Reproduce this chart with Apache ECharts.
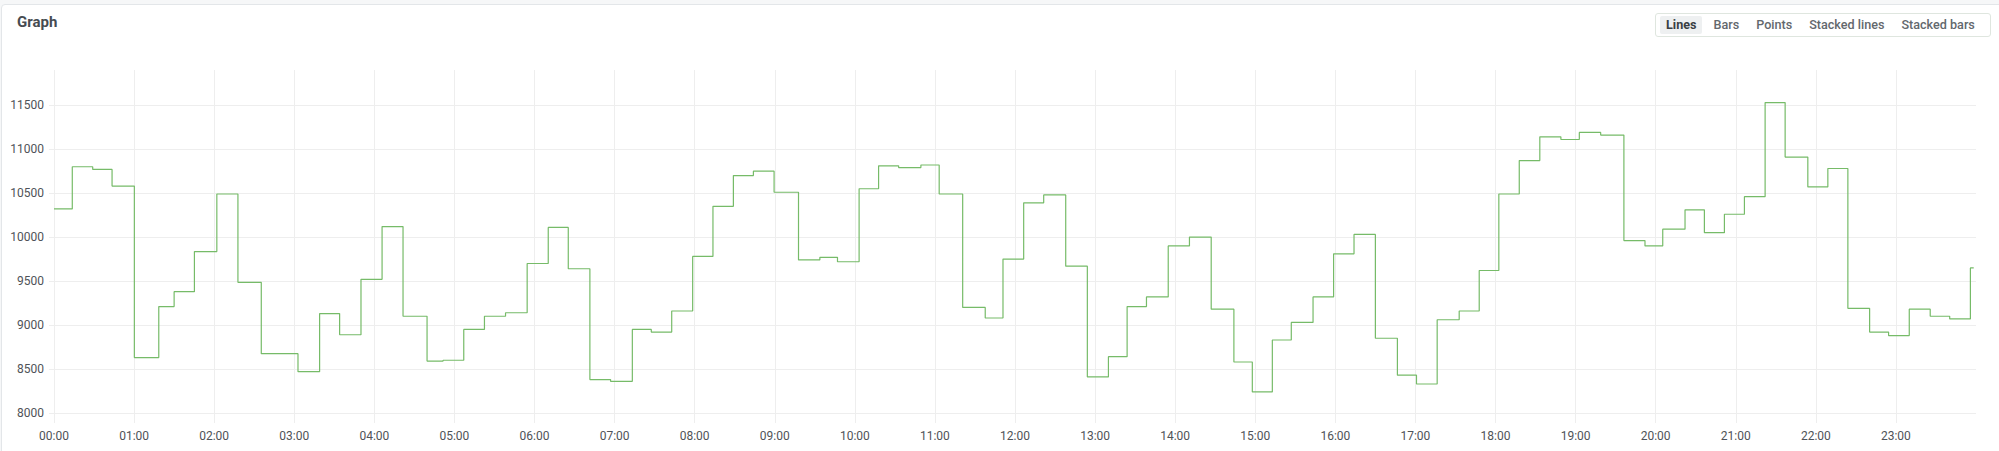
<!DOCTYPE html>
<html>
<head>
<meta charset="utf-8">
<title>Graph</title>
<script src="https://cdn.jsdelivr.net/npm/echarts@6/dist/echarts.min.js"></script>
<style>
  html, body { margin: 0; padding: 0; background: #f6f7f8; }
  body { width: 1999px; height: 451px; position: relative; overflow: hidden; font-family: Roboto, 'Liberation Sans', sans-serif; }
  .card { position: absolute; left: 1px; top: 4px; width: 2010px; height: 470px; background: #fff; border: 1px solid #e3e6e9; border-radius: 4px; }
  .title { position: absolute; left: 17px; top: 13px; font-size: 15px; font-weight: 700; color: #464b51; z-index: 2; }
  .modes { position: absolute; left: 1655px; top: 13px; height: 22px; padding: 0 4px; border: 1px solid #dfe6df; border-radius: 3px; display: flex; align-items: center; z-index: 2; }
  .modes span { font-size: 12.6px; font-weight: 500; color: #63686d; padding: 2px 6px; margin-right: 5px; border-radius: 2px; line-height: 14px; }
  .modes span.on { background: #eef0f1; color: #3a3f44; font-weight: 700; }
  #chart { position: absolute; left: 0; top: 0; width: 1999px; height: 451px; z-index: 1; }
</style>
</head>
<body>
<div class="card"></div>
<div class="title">Graph</div>
<div class="modes">
  <span class="on">Lines</span><span>Bars</span><span>Points</span><span>Stacked lines</span><span>Stacked bars</span>
</div>
<div id="chart"></div>
<script>
// minutes after 00:00 where the value changes
const times = [
  0, 13.7, 29.0, 43.5, 60.2, 78.5, 90.0, 105.2, 122.0, 137.8,
  155.3, 182.8, 199.0, 214.0, 230.0, 245.8, 261.5, 279.5, 291.5, 307.0,
  322.5, 338.3, 354.5, 370.3, 385.3, 401.5, 417.0, 433.3, 447.5, 462.8,
  478.5, 493.7, 509.0, 524.0, 539.5, 557.8, 573.8, 587.0, 603.2, 617.8,
  632.8, 649.5, 663.2, 680.8, 697.7, 711.0, 726.5, 741.5, 758.0, 774.2,
  790.0, 804.0, 818.5, 834.8, 850.7, 867.0, 884.0, 897.8, 912.8, 927.0,
  943.3, 958.7, 974.0, 990.0, 1006.5, 1020.8, 1036.3, 1052.8, 1067.8, 1082.5,
  1097.8, 1113.2, 1129.0, 1142.8, 1158.8, 1176.2, 1192.0, 1205.3, 1222.0, 1236.5,
  1251.5, 1266.5, 1282.0, 1297.0, 1314.0, 1329.0, 1344.0, 1360.3, 1374.5, 1390.0,
  1405.7, 1420.3, 1435.8
];
const endTime = 1438.3;

const values = [
  10320, 10800, 10770, 10580, 8630, 9210, 9380, 9835, 10490, 9486,
  8675, 8470, 9130, 8890, 9520, 10120, 9100, 8590, 8600, 8950,
  9100, 9140, 9700, 10110, 9640, 8380, 8360, 8950, 8920, 9160,
  9780, 10350, 10700, 10750, 10510, 9740, 9770, 9720, 10550, 10810,
  10790, 10820, 10490, 9200, 9080, 9750, 10390, 10480, 9670, 8410,
  8640, 9210, 9320, 9900, 10000, 9180, 8580, 8240, 8830, 9030,
  9320, 9810, 10030, 8850, 8430, 8330, 9060, 9160, 9620, 10490,
  10870, 11140, 11110, 11190, 11160, 9960, 9900, 10090, 10310, 10050,
  10260, 10460, 11530, 10910, 10570, 10780, 9190, 8920, 8880, 9180,
  9100, 9070, 9650
];

const yTicks = [8000, 8500, 9000, 9500, 10000, 10500, 11000, 11500];
const hourLabels = ['00:00', '01:00', '02:00', '03:00', '04:00', '05:00', '06:00', '07:00',
  '08:00', '09:00', '10:00', '11:00', '12:00', '13:00', '14:00', '15:00',
  '16:00', '17:00', '18:00', '19:00', '20:00', '21:00', '22:00', '23:00'];

const xTicks = hourLabels.map((_, i) => i * 60);
const points = times.map((t, i) => [t, values[i]]);
points.push([endTime, values[values.length - 1]]);

const gridColor = '#eeeeee';
const labelColor = '#4f5358';

const chart = echarts.init(document.getElementById('chart'), null, { renderer: 'svg' });
chart.setOption({
  animation: false,
  backgroundColor: 'transparent',
  textStyle: { fontFamily: 'Roboto, "Liberation Sans", sans-serif' },
  grid: { left: 54, right: 23, top: 70, bottom: 38, containLabel: false, outerBoundsMode: 'none' },
  xAxis: {
    type: 'value',
    min: 0,
    max: 1440,
    axisLine: { show: false },
    axisTick: { show: true, length: 10, customValues: xTicks, lineStyle: { color: gridColor } },
    axisLabel: {
      customValues: xTicks,
      color: labelColor,
      fontSize: 12,
      margin: 17,
      formatter: v => hourLabels[Math.round(v / 60)]
    },
    splitLine: { show: true, lineStyle: { color: gridColor, width: 1 } }
  },
  yAxis: {
    type: 'value',
    min: 8000,
    max: 11900,
    axisLine: { show: false },
    axisTick: { show: true, length: 5, customValues: yTicks, lineStyle: { color: gridColor } },
    axisLabel: { customValues: yTicks, color: labelColor, fontSize: 12, margin: 10, formatter: v => String(v) },
    splitLine: { show: true, lineStyle: { color: gridColor, width: 1 } }
  },
  series: [{
    type: 'line',
    step: 'end',
    data: points,
    showSymbol: false,
    lineStyle: { color: '#76bb68', width: 1.2 },
    itemStyle: { color: '#76bb68' }
  }]
});
</script>
</body>
</html>
